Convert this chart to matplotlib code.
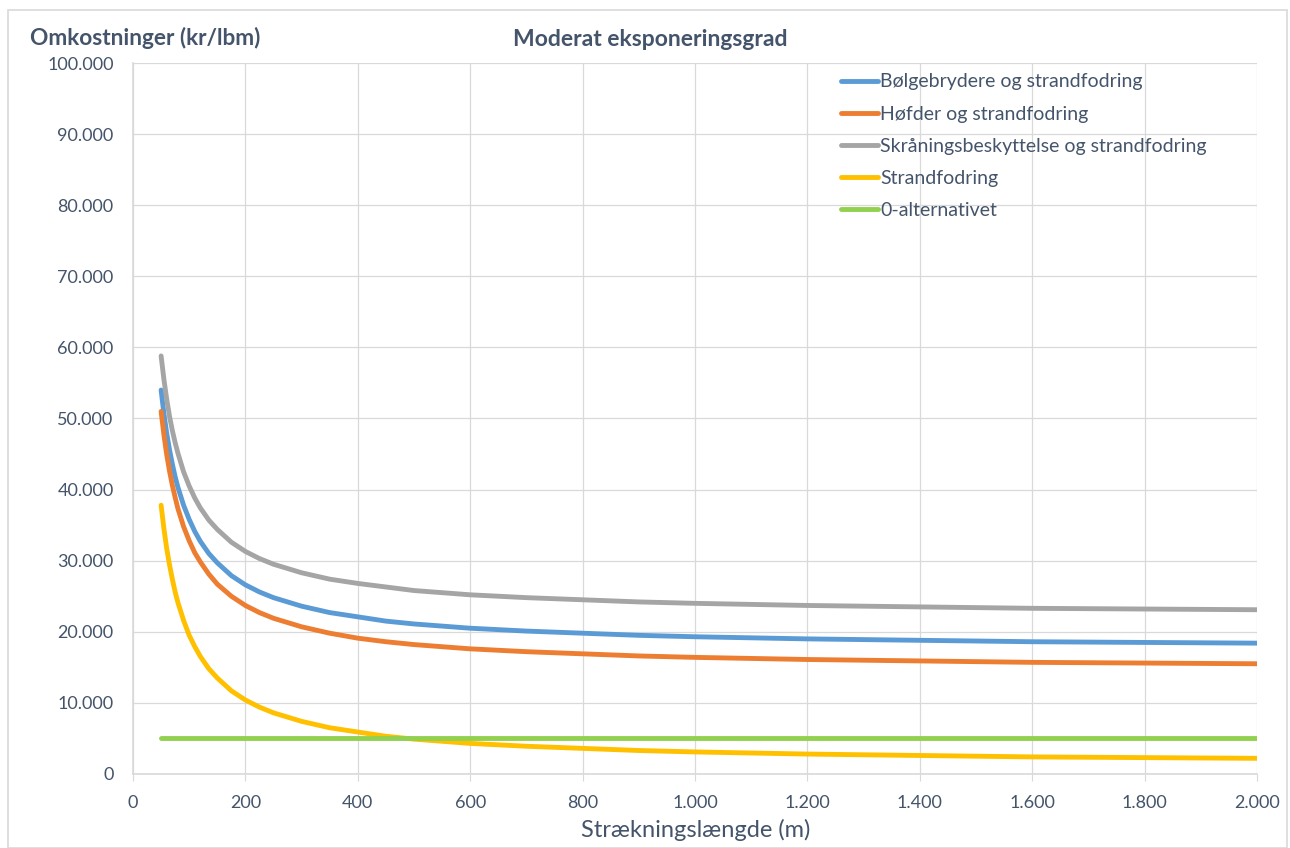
import matplotlib
matplotlib.use("Agg")
import matplotlib.pyplot as plt
from matplotlib.ticker import FuncFormatter, MultipleLocator
from matplotlib.patches import Rectangle

plt.rcParams['font.family'] = ['Lato', 'DejaVu Sans']

# Strækningslængde (m)
x = [50, 55, 60, 65, 70, 75, 80, 90, 100, 110, 120, 135, 150, 175, 200, 225,
     250, 300, 350, 400, 450, 500, 600, 700, 800, 900, 1000, 1200, 1400, 1600,
     1800, 2000]

bolge = [54000, 50700, 47900, 45600, 43600, 41800, 40300, 37800, 35800, 34100,
         32700, 31000, 29700, 27900, 26600, 25600, 24800, 23600, 22700, 22100,
         21500, 21100, 20500, 20100, 19800, 19500, 19300, 19000, 18800, 18600,
         18500, 18400]
hofder = [51000, 47700, 44900, 42600, 40600, 38900, 37300, 34800, 32800, 31100,
          29800, 28100, 26700, 25000, 23700, 22700, 21900, 20700, 19800, 19100,
          18600, 18200, 17600, 17200, 16900, 16600, 16400, 16100, 15900, 15700,
          15600, 15500]
skraaning = [58800, 55500, 52700, 50300, 48300, 46600, 45100, 42500, 40500, 38800,
             37400, 35700, 34400, 32600, 31300, 30300, 29500, 28300, 27400, 26800,
             26300, 25800, 25200, 24800, 24500, 24200, 24000, 23700, 23500, 23300,
             23200, 23100]
strand = [37800, 34500, 31700, 29400, 27400, 25600, 24100, 21600, 19500, 17900,
          16500, 14800, 13500, 11700, 10400, 9400, 8600, 7400, 6500, 5900,
          5300, 4900, 4300, 3900, 3600, 3300, 3100, 2800, 2600, 2400,
          2300, 2200]
nul_x = [50, 2000]
nul = [5000, 5000]

series = [
    ("Bølgebrydere og strandfodring", x, bolge, "#5B9BD5"),
    ("Høfder og strandfodring", x, hofder, "#ED7D31"),
    ("Skråningsbeskyttelse og strandfodring", x, skraaning, "#A5A5A5"),
    ("Strandfodring", x, strand, "#FFC000"),
    ("0-alternativet", nul_x, nul, "#92D050"),
]

text_col = "#44546A"
grid_col = "#D9D9D9"

fig = plt.figure(figsize=(12.9, 8.48), dpi=100)
ax = fig.add_axes([0.1031, 0.0873, 0.8713, 0.8384])

for name, xs, ys, c in series:
    ax.plot(xs, ys, color=c, lw=3.5, label=name, solid_capstyle='round',
            solid_joinstyle='round')

ax.set_xlim(0, 2000)
ax.set_ylim(0, 100000)
ax.xaxis.set_major_locator(MultipleLocator(200))
ax.yaxis.set_major_locator(MultipleLocator(10000))
fmt = FuncFormatter(lambda v, p: f"{int(round(v)):,}".replace(",", "."))
ax.xaxis.set_major_formatter(fmt)
ax.yaxis.set_major_formatter(fmt)
ax.grid(True, color=grid_col, lw=0.9)
ax.set_axisbelow(True)
for s in ["top", "right"]:
    ax.spines[s].set_visible(False)
for s in ["left", "bottom"]:
    ax.spines[s].set_color(grid_col)
    ax.spines[s].set_linewidth(1.2)
ax.tick_params(colors=grid_col, labelcolor=text_col, labelsize=13, length=5)
ax.tick_params(axis='y', length=0, pad=14)
ax.tick_params(axis='x', pad=10)

leg = ax.legend(loc="upper left", bbox_to_anchor=(0.614, 1.01), frameon=False,
                fontsize=14, handlelength=1.9, handletextpad=0.15,
                labelspacing=0.78, labelcolor=text_col)

fig.text(0.504, 0.953, "Moderat eksponeringsgrad", ha="center", va="center",
         fontsize=16.5, fontweight="bold", color=text_col)
fig.text(0.023, 0.955, "Omkostninger (kr/lbm)", ha="left", va="center",
         fontsize=16.3, fontweight="bold", color=text_col)
fig.text(0.539, 0.021, "Strækningslængde (m)", ha="center", va="center",
         fontsize=17, color=text_col)

fig.patches.append(Rectangle((0.006, 0.0), 0.992, 0.988, transform=fig.transFigure,
                             fill=False, edgecolor="#D9D9D9", lw=1.2))

fig.savefig("out.png", dpi=100)
plt.close(fig)
